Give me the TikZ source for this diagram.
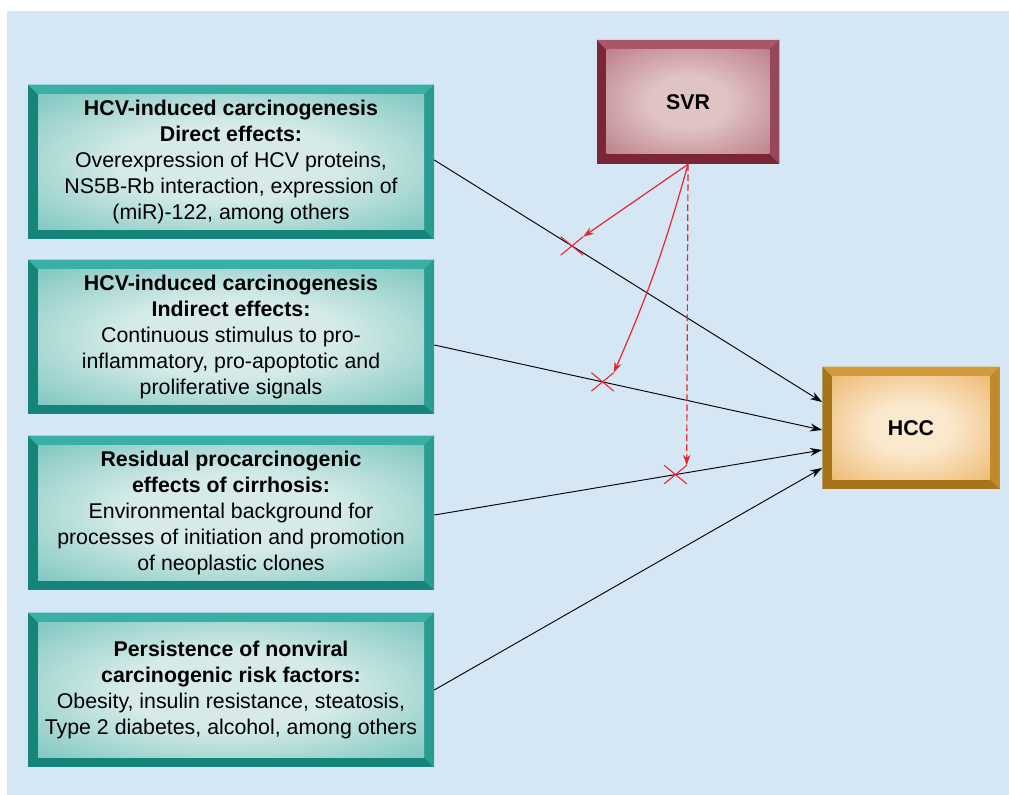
\documentclass[tikz,border=0pt]{standalone}
\usepackage{fontspec}
\setmainfont{Liberation Sans}
\usepackage{tikz}
\usetikzlibrary{arrows,arrows.meta,positioning,shapes.misc}
\definecolor{bkg}{RGB}{213,230,245}
\definecolor{tealbase}{RGB}{21,133,124}
\definecolor{tealtop}{RGB}{58,175,164}
\definecolor{tealright}{RGB}{42,156,146}
\definecolor{tealedge}{RGB}{72,176,166}
\definecolor{tealmid}{RGB}{214,235,233}
\definecolor{svrbase}{RGB}{122,38,55}
\definecolor{svrtop}{RGB}{169,86,106}
\definecolor{svrright}{RGB}{150,71,90}
\definecolor{svredge}{RGB}{170,88,105}
\definecolor{svrmid}{RGB}{224,196,196}
\definecolor{hccbase}{RGB}{168,116,26}
\definecolor{hcctop}{RGB}{211,154,60}
\definecolor{hccright}{RGB}{194,138,46}
\definecolor{hccedge}{RGB}{230,160,64}
\definecolor{hccmid}{RGB}{251,233,206}
\definecolor{svrred}{RGB}{232,37,43}
\pgfdeclareradialshading{tealglow}{\pgfpoint{0bp}{0bp}}{color(0bp)=(tealmid); color(14bp)=(tealmid);
  color(50bp)=(tealedge)}
\pgfdeclareradialshading{svrglow}{\pgfpoint{0bp}{0bp}}{color(0bp)=(svrmid); color(12bp)=(svrmid);
  color(50bp)=(svredge)}
\pgfdeclareradialshading{hccglow}{\pgfpoint{0bp}{0bp}}{color(0bp)=(hccmid); color(12bp)=(hccmid);
  color(50bp)=(hccedge)}

\begin{document}
\begin{tikzpicture}[x=0.75pt,y=-0.75pt]
\tikzset{bevel/.style n args={4}{path picture={
  \fill[#1] (path picture bounding box.south west) rectangle (path picture bounding box.north east);
  \fill[#2] (path picture bounding box.north west) -- (path picture bounding box.north east)
    -- ([shift={(-7.5pt,-7.5pt)}]path picture bounding box.north east)
    -- ([shift={(7.5pt,-7.5pt)}]path picture bounding box.north west) -- cycle;
  \fill[#3] (path picture bounding box.north east) -- (path picture bounding box.south east)
    -- ([shift={(-7.5pt,7.5pt)}]path picture bounding box.south east)
    -- ([shift={(-7.5pt,-7.5pt)}]path picture bounding box.north east) -- cycle;
  \shade[shading=#4] ([shift={(7.5pt,7.5pt)}]path picture bounding box.south west)
    rectangle ([shift={(-7.5pt,-7.5pt)}]path picture bounding box.north east);
}}}
\tikzstyle{effectbox}=[rectangle,minimum width=304.5pt,minimum height=116pt,align=center,
  font=\fontsize{16pt}{19.5pt}\selectfont,bevel={tealbase}{tealtop}{tealright}{tealglow}]
\tikzstyle{svrbox}=[rectangle,minimum width=137pt,minimum height=93pt,
  font=\fontsize{16pt}{19.5pt}\selectfont\bfseries,bevel={svrbase}{svrtop}{svrright}{svrglow}]
\tikzstyle{hccbox}=[rectangle,minimum width=133pt,minimum height=92pt,
  font=\fontsize{16pt}{19.5pt}\selectfont\bfseries,bevel={hccbase}{hcctop}{hccright}{hccglow}]
\tikzstyle{arrow}=[line width=0.7pt,-{Stealth[length=9pt,width=6pt]}]
\tikzstyle{svrarrow}=[line width=0.9pt,svrred,-{Stealth[length=8pt,width=5.5pt]}]
\tikzstyle{cut}=[cross out,draw=svrred,line width=0.8pt,minimum width=16pt,minimum height=13pt,inner sep=0pt]

\useasboundingbox (0,0) rectangle (1009,795);
\fill [bkg] (7,11) rectangle (1009,795);

\node [effectbox] at (231,162) (d1) {\textbf{HCV-induced carcinogenesis}\\\textbf{Direct effects:}\\
  Overexpression of HCV proteins,\\NS5B-Rb interaction, expression of\\(miR)-122, among others};
\node [effectbox] at (231,337) (d2) {\textbf{HCV-induced carcinogenesis}\\\textbf{Indirect effects:}\\
  Continuous stimulus to pro-\\inflammatory, pro-apoptotic and\\proliferative signals};
\node [effectbox] at (231,513) (d3) {\textbf{Residual procarcinogenic}\\\textbf{effects of cirrhosis:}\\
  Environmental background for\\processes of initiation and promotion\\of neoplastic clones};
\node [effectbox] at (231,690) (d4) {\textbf{Persistence of nonviral}\\\textbf{carcinogenic risk factors:}\\
  Obesity, insulin resistance, steatosis,\\Type 2 diabetes, alcohol, among others};
\node [svrbox] at (688,102) (svr) {SVR};
\node [hccbox] at (911,428) (hcc) {HCC};

\draw [arrow] ([yshift=1.5pt]d1.east) -- node[cut,pos=0.355] (x1) {} ([yshift=19.5pt]hcc.west);
\draw [arrow] ([yshift=-6pt]d2.east) -- node[cut,pos=0.434] (x2) {} ([yshift=-1.5pt]hcc.west);
\draw [arrow] ([yshift=-1.5pt]d3.east) -- node[cut,pos=0.622] (x3) {} ([yshift=-16.5pt]hcc.west);
\draw [arrow] (d4.east) -- ([yshift=-30pt]hcc.west);

\draw [svrarrow] (svr.south) -- (x1.north east);
\draw [svrarrow] (svr.south) to[bend left=4] (x2.north east);
\draw [svrarrow,dash pattern=on 5pt off 2.5pt] (svr.south) -- (x3.north east);
\end{tikzpicture}
\end{document}
